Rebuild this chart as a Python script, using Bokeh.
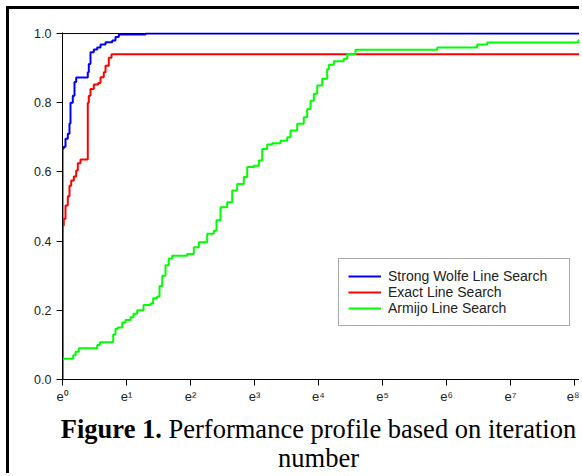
from bokeh.plotting import figure
from bokeh.models import Range1d, FixedTicker, NumeralTickFormatter, Span, Legend, LegendItem, Div
from bokeh.layouts import column
from bokeh.embed import file_html
from bokeh.resources import INLINE

# ---- data (x = log_e(tau), y = fraction of problems) ----
wolfe_x = [0.0, 0.0, 0.02, 0.047, 0.083, 0.109, 0.125, 0.161, 0.1875, 0.214, 0.395, 0.411, 0.4375,
           0.489, 0.542, 0.594, 0.672, 0.777, 0.828, 0.880, 1.297]
wolfe_y = [0.0, 0.668, 0.673, 0.696, 0.71, 0.74, 0.80, 0.82, 0.86, 0.873, 0.888, 0.912, 0.946,
           0.954, 0.96, 0.968, 0.975, 0.98, 0.99, 0.997, 1.0]

exact_x = [0.0, 0.0, 0.02, 0.047, 0.083, 0.109, 0.136, 0.177, 0.214, 0.239, 0.281, 0.395, 0.411,
           0.4375, 0.489, 0.558, 0.594, 0.645, 0.672, 0.723, 0.766]
exact_y = [0.0, 0.445, 0.465, 0.503, 0.53, 0.56, 0.575, 0.587, 0.604, 0.625, 0.636, 0.80, 0.82,
           0.84, 0.853, 0.857, 0.874, 0.888, 0.907, 0.93, 0.94]

armijo_x = [0.0, 0.0, 0.167, 0.203, 0.255, 0.542, 0.583, 0.792, 0.828, 0.864, 0.933, 0.984, 1.063,
            1.109, 1.167, 1.266, 1.375, 1.417, 1.480, 1.516, 1.558, 1.609, 1.661, 1.714, 1.948,
            2.052, 2.130, 2.261, 2.364, 2.406, 2.469, 2.573, 2.652, 2.730, 2.833, 2.886, 2.989,
            3.067, 3.120, 3.198, 3.277, 3.406, 3.511, 3.563, 3.667, 3.770, 3.823, 3.875, 3.927,
            3.980, 4.058, 4.136, 4.161, 4.239, 4.395, 4.448, 4.578, 5.855, 6.480, 6.636, 8.06]
armijo_y = [0.0, 0.06, 0.07, 0.08, 0.09, 0.10, 0.108, 0.13, 0.147, 0.15, 0.165, 0.172, 0.18,
            0.19, 0.20, 0.215, 0.22, 0.235, 0.24, 0.27, 0.30, 0.33, 0.35, 0.358, 0.363,
            0.382, 0.397, 0.421, 0.43, 0.46, 0.498, 0.512, 0.546, 0.565, 0.585, 0.614, 0.618,
            0.633, 0.666, 0.679, 0.683, 0.69, 0.70, 0.72, 0.739, 0.758, 0.782, 0.806, 0.826,
            0.85, 0.869, 0.897, 0.91, 0.92, 0.927, 0.941, 0.953, 0.96, 0.968, 0.974, 0.98]

series_names = ["Strong Wolfe Line Search", "Exact Line Search", "Armijo Line Search"]
series_colors = ["#0000FF", "#FF0000", "#00FF00"]

x_ticks = [0, 1, 2, 3, 4, 5, 6, 7, 8]
x_tick_labels = ["e⁰", "e¹", "e²", "e³", "e⁴", "e⁵", "e⁶", "e⁷", "e⁸"]
y_ticks = [0.0, 0.2, 0.4, 0.6, 0.8, 1.0]

caption_bold = "Figure 1."
caption_rest = "Performance profile based on iteration"
caption_line2 = "number"

X_END = 8.125
Y_END = 1.003

p = figure(width=573, height=409, x_range=Range1d(0, X_END), y_range=Range1d(0, Y_END),
           output_backend="svg", toolbar_location=None,
           min_border_left=53, min_border_right=0, min_border_top=23, min_border_bottom=39)
p.styles = {"margin-left": "6px", "margin-top": "6px",
            "border-left": "3px solid black", "border-top": "3px solid black"}
p.outline_line_color = None
p.grid.visible = False
p.background_fill_color = "white"
p.border_fill_color = "white"

for ax in (p.xaxis[0], p.yaxis[0]):
    ax.axis_line_color = "black"
    ax.axis_line_width = 1
    ax.major_tick_line_color = "black"
    ax.major_tick_out = 6
    ax.major_tick_in = 0
    ax.minor_tick_line_color = None
    ax.major_label_text_font = "Liberation Sans"
    ax.major_label_text_color = "#222222"

p.xaxis.ticker = FixedTicker(ticks=x_ticks)
p.xaxis.major_label_overrides = {t: lab for t, lab in zip(x_ticks, x_tick_labels)}
p.xaxis.major_label_text_font_size = "13px"
p.xaxis.major_label_standoff = 3

p.yaxis.ticker = FixedTicker(ticks=y_ticks)
p.yaxis.formatter = NumeralTickFormatter(format="0.0")
p.yaxis.major_label_text_font_size = "12.5px"
p.yaxis.major_label_standoff = 5

p.add_layout(Span(location=1.0, dimension="width", line_color="black", line_width=1))

renderers = []
for xs, ys, col in [(wolfe_x, wolfe_y, series_colors[0]),
                    (exact_x, exact_y, series_colors[1]),
                    (armijo_x, armijo_y, series_colors[2])]:
    xx = list(xs) + [X_END]
    yy = list(ys) + [ys[-1]]
    r = p.step(xx, yy, mode="after", line_color=col, line_width=2)
    renderers.append(r)

legend = Legend(items=[LegendItem(label=n, renderers=[r]) for n, r in zip(series_names, renderers)],
                location=(276, 53), border_line_color="#555555", border_line_width=1,
                padding=9, spacing=0, margin=0, label_height=14, glyph_height=14, glyph_width=33,
                label_standoff=7, label_width=172, label_text_font="Liberation Sans",
                label_text_font_size="14px", label_text_line_height=1.0,
                label_text_color="#222222", background_fill_alpha=1.0)
p.add_layout(legend, "center")

caption_html = (
    '<div style="margin-left:44px; width:531px; text-align:center; '
    'font-family:\'Liberation Serif\', \'Times New Roman\', serif; font-size:26.5px; '
    'line-height:29px; color:black;">'
    f'<b>{caption_bold}</b> {caption_rest}<br>{caption_line2}</div>'
)
cap = Div(text=caption_html, width=573, height=58,
          styles={"margin-left": "6px", "border-left": "3px solid black", "margin-top": "0px"})

layout = column(p, cap, spacing=0)
open("out.html", "w").write(file_html(layout, INLINE))
